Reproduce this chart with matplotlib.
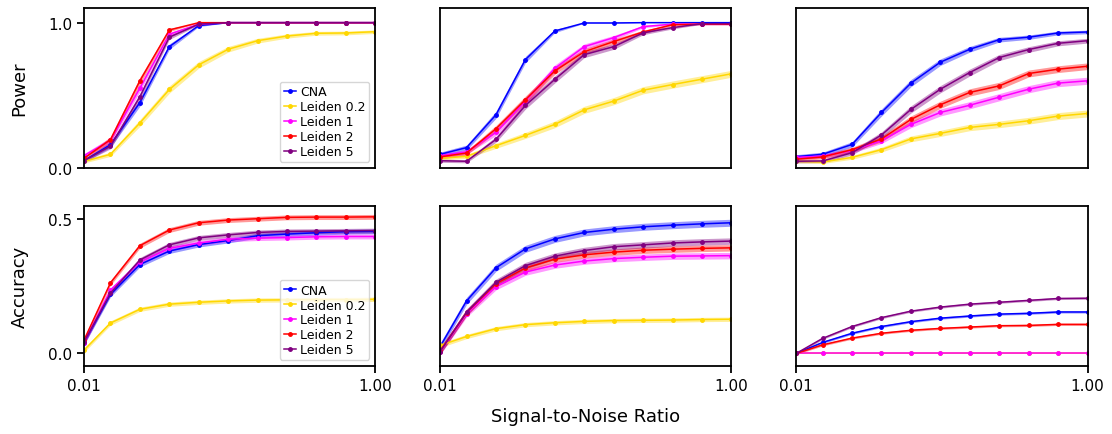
import numpy as np
import matplotlib
matplotlib.use("Agg")
import matplotlib.pyplot as plt

snr = [0.01, 0.1, 0.2, 0.3, 0.4, 0.5, 0.6, 0.7, 0.8, 0.9, 1.0]
methods = ["CNA", "Leiden 0.2", "Leiden 1", "Leiden 2", "Leiden 5"]
colors = ["blue", "gold", "magenta", "red", "purple"]

# power, one list per method, three scenarios
power_1 = [
    [0.05, 0.16, 0.45, 0.835, 0.98, 1.0, 1.0, 1.0, 1.0, 1.0, 1.0],
    [0.045, 0.094, 0.31, 0.54, 0.71, 0.817, 0.876, 0.908, 0.927, 0.929, 0.938],
    [0.085, 0.19, 0.55, 0.92, 0.99, 1.0, 1.0, 1.0, 1.0, 1.0, 1.0],
    [0.066, 0.195, 0.6, 0.95, 1.0, 1.0, 1.0, 1.0, 1.0, 1.0, 1.0],
    [0.05, 0.15, 0.49, 0.9, 0.99, 1.0, 1.0, 1.0, 1.0, 1.0, 1.0],
]
power_2 = [
    [0.094, 0.14, 0.366, 0.746, 0.943, 0.998, 0.998, 1.0, 1.0, 1.0, 1.0],
    [0.066, 0.08, 0.153, 0.224, 0.30, 0.40, 0.46, 0.535, 0.574, 0.611, 0.648],
    [0.085, 0.11, 0.245, 0.46, 0.686, 0.835, 0.897, 0.973, 0.99, 0.99, 0.99],
    [0.076, 0.103, 0.27, 0.47, 0.668, 0.80, 0.87, 0.936, 0.986, 0.99, 0.99],
    [0.05, 0.046, 0.197, 0.43, 0.61, 0.78, 0.835, 0.93, 0.966, 0.993, 0.993],
]
power_3 = [
    [0.078, 0.094, 0.162, 0.382, 0.584, 0.728, 0.817, 0.883, 0.90, 0.929, 0.936],
    [0.046, 0.041, 0.073, 0.126, 0.20, 0.238, 0.279, 0.30, 0.325, 0.357, 0.375],
    [0.073, 0.082, 0.119, 0.188, 0.30, 0.382, 0.432, 0.487, 0.542, 0.584, 0.60],
    [0.06, 0.076, 0.126, 0.20, 0.334, 0.435, 0.52, 0.565, 0.65, 0.68, 0.70],
    [0.046, 0.048, 0.105, 0.227, 0.403, 0.542, 0.657, 0.76, 0.815, 0.858, 0.876],
]

# accuracy
acc_1 = [
    [0.04, 0.219, 0.33, 0.38, 0.404, 0.419, 0.437, 0.443, 0.448, 0.452, 0.453],
    [0.012, 0.113, 0.164, 0.183, 0.19, 0.195, 0.198, 0.199, 0.20, 0.20, 0.201],
    [0.04, 0.235, 0.34, 0.39, 0.41, 0.424, 0.428, 0.43, 0.433, 0.434, 0.434],
    [0.049, 0.262, 0.40, 0.458, 0.485, 0.495, 0.50, 0.505, 0.506, 0.506, 0.507],
    [0.042, 0.224, 0.347, 0.403, 0.429, 0.44, 0.449, 0.453, 0.454, 0.455, 0.456],
]
acc_2 = [
    [0.025, 0.195, 0.318, 0.388, 0.425, 0.449, 0.461, 0.47, 0.476, 0.481, 0.485],
    [0.03, 0.063, 0.092, 0.107, 0.114, 0.119, 0.122, 0.123, 0.124, 0.126, 0.127],
    [0.007, 0.147, 0.248, 0.302, 0.328, 0.343, 0.352, 0.357, 0.361, 0.362, 0.363],
    [0.009, 0.152, 0.259, 0.317, 0.35, 0.366, 0.376, 0.383, 0.387, 0.39, 0.392],
    [0.007, 0.153, 0.264, 0.326, 0.361, 0.382, 0.396, 0.403, 0.41, 0.414, 0.417],
]
acc_3 = [
    [0.0, 0.041, 0.075, 0.10, 0.118, 0.131, 0.139, 0.146, 0.149, 0.154, 0.154],
    [0.0, 0.0, 0.0, 0.0, 0.0, 0.0, 0.0, 0.0, 0.0, 0.0, 0.0],
    [0.0, 0.0, 0.0, 0.0, 0.0, 0.0, 0.0, 0.0, 0.0, 0.0, 0.0],
    [0.0, 0.032, 0.057, 0.075, 0.086, 0.093, 0.098, 0.103, 0.104, 0.108, 0.108],
    [0.0, 0.056, 0.10, 0.133, 0.157, 0.172, 0.183, 0.19, 0.197, 0.204, 0.205],
]

# half-width of the shaded bands, per method (power: at p = 0.5)
power_err = [0.025, 0.025, 0.025, 0.025, 0.025]
acc_err_1 = [0.009, 0.008, 0.009, 0.009, 0.009]
acc_err_2 = [0.013, 0.008, 0.012, 0.012, 0.012]
acc_err_3 = [0.004, 0.002, 0.002, 0.004, 0.004]

panels = [
    [(power_1, power_err), (power_2, power_err), (power_3, power_err)],
    [(acc_1, acc_err_1), (acc_2, acc_err_2), (acc_3, acc_err_3)],
]

plt.rcParams["axes.linewidth"] = 1.3
plt.rcParams["xtick.major.width"] = 1.3
plt.rcParams["ytick.major.width"] = 1.3
plt.rcParams["xtick.major.size"] = 5
plt.rcParams["ytick.major.size"] = 5

fig, axes = plt.subplots(2, 3, figsize=(11.12, 4.35), dpi=100)
fig.subplots_adjust(left=0.0755, right=0.978, bottom=0.156, top=0.979,
                    wspace=0.222, hspace=0.24)

x = np.array(snr)
for r in range(2):
    for c in range(3):
        ax = axes[r, c]
        vals, errs = panels[r][c]
        for name, col, v, e in zip(methods, colors, vals, errs):
            v = np.array(v)
            if r == 0:
                # binomial-style band, shrinks to nothing at power 1
                e = e * 2 * np.sqrt(v * (1 - v))
            ax.fill_between(x, v - e, v + e, color=col, alpha=0.4, lw=0)
            ax.plot(x, v, color=col, lw=1.1, marker="o", ms=2.5, label=name)
        ax.set_xlim(0.01, 1.0)
        if r == 0:
            ax.set_ylim(0, 1.1)
            ax.set_xticks([])
        else:
            ax.set_ylim(-0.047, 0.546)
            ax.set_xticks([0.01, 1.0])
            ax.set_xticklabels(["0.01", "1.00"], fontsize=11)
        if c == 0:
            if r == 0:
                ax.set_yticks([0.0, 1.0])
                ax.set_yticklabels(["0.0", "1.0"], fontsize=11)
                ax.set_ylabel("Power", fontsize=13)
            else:
                ax.set_yticks([0.0, 0.5])
                ax.set_yticklabels(["0.0", "0.5"], fontsize=11)
                ax.set_ylabel("Accuracy", fontsize=13)
            ax.legend(loc="lower right", fontsize=9, handlelength=1.0,
                      handletextpad=0.3, labelspacing=0.15, borderpad=0.3,
                      borderaxespad=0.5)
        else:
            ax.set_yticks([])

axes[1, 1].set_xlabel("Signal-to-Noise Ratio", fontsize=13, labelpad=10)
axes[0, 0].yaxis.set_label_coords(-0.19, 0.5)
axes[1, 0].yaxis.set_label_coords(-0.19, 0.5)

fig.savefig("out.png", dpi=100)
